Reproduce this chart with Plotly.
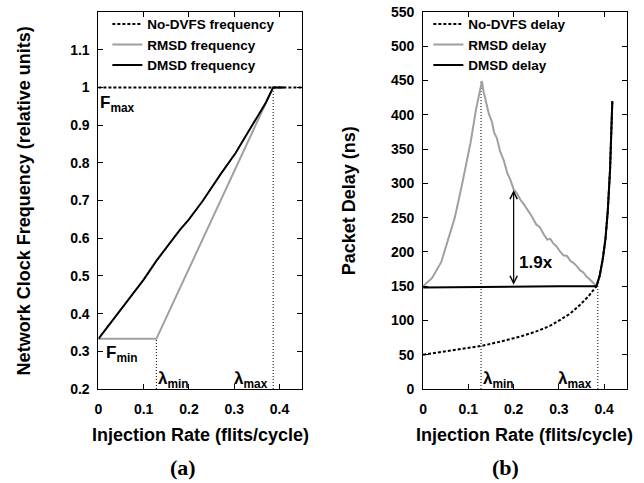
import plotly.graph_objects as go

# ---------------- data ----------------
lam_min = 0.128
lam_max = 0.386

# (a) frequency
nodvfs_freq_x = [0.0, 0.45]
nodvfs_freq_y = [1.0, 1.0]
rmsd_freq_x = [0.0, 0.128, 0.386, 0.41]
rmsd_freq_y = [0.333, 0.333, 1.0, 1.0]
dmsd_freq_x = [0.0, 0.05, 0.1, 0.128, 0.15, 0.18, 0.2, 0.231, 0.27, 0.303, 0.34, 0.37, 0.386, 0.41]
dmsd_freq_y = [0.333, 0.41, 0.49, 0.54, 0.575, 0.622, 0.65, 0.70, 0.77, 0.826, 0.90, 0.96, 1.0, 1.0]

# (b) delay
nodvfs_delay_x = [0.0, 0.03, 0.06, 0.09, 0.13, 0.17, 0.215, 0.25, 0.28, 0.303, 0.325, 0.347,
                  0.365, 0.383, 0.39, 0.397, 0.403, 0.408, 0.413, 0.418]
nodvfs_delay_y = [50, 53, 56, 59, 63, 69, 76.5, 84, 92, 101, 110, 123,
                  135, 150, 165, 190, 220, 260, 320, 420]
rmsd_delay_x = [0.0, 0.02, 0.04, 0.053, 0.07, 0.085, 0.095, 0.105, 0.117, 0.125, 0.13, 0.133,
                0.137, 0.145, 0.152, 0.157, 0.163, 0.17, 0.178, 0.186, 0.193, 0.2, 0.207,
                0.215, 0.222, 0.23, 0.24, 0.25, 0.258, 0.266, 0.274, 0.281, 0.288, 0.295,
                0.302, 0.31, 0.318, 0.325, 0.332, 0.34, 0.347, 0.354, 0.361, 0.368, 0.375,
                0.383, 0.39, 0.397, 0.403, 0.408, 0.413, 0.418]
rmsd_delay_y = [150, 162, 185, 212, 250, 295, 325, 360, 408, 437, 449, 436,
                425, 402, 390, 374, 366, 347, 334, 315, 305, 291, 286,
                276, 270, 262, 252, 240, 236, 226, 218, 219, 212, 208,
                201, 195, 194, 187, 184, 179, 173, 170, 164, 160, 156,
                150, 165, 190, 220, 260, 320, 420]
dmsd_delay_x = [0.0, 0.1, 0.2, 0.3, 0.383, 0.39, 0.397, 0.403, 0.408, 0.413, 0.418]
dmsd_delay_y = [148, 149, 150, 150, 150, 165, 190, 220, 260, 320, 420]

arrow_x = 0.2
arrow_low = 150
arrow_high = 290

freq_ticks = [0.2, 0.3, 0.4, 0.5, 0.6, 0.7, 0.8, 0.9, 1.0, 1.1]
freq_tick_text = ["0.2", "0.3", "0.4", "0.5", "0.6", "0.7", "0.8", "0.9", "1", "1.1"]
delay_ticks = list(range(0, 551, 50))
x_ticks = [0, 0.1, 0.2, 0.3, 0.4]
x_tick_text = ["0", "0.1", "0.2", "0.3", "0.4"]

# --------------- figure ---------------
GRAY = "#a0a0a0"
FONT = "Liberation Sans, Arial, sans-serif"
fig = go.Figure()

# (a)
fig.add_trace(go.Scatter(x=[lam_min, lam_min], y=[0.2, rmsd_freq_y[1]], mode="lines",
                         line=dict(color="black", width=1, dash="1px,2px"),
                         showlegend=False, xaxis="x", yaxis="y"))
fig.add_trace(go.Scatter(x=[lam_max, lam_max], y=[0.2, 1.0], mode="lines",
                         line=dict(color="black", width=1, dash="1px,2px"),
                         showlegend=False, xaxis="x", yaxis="y"))
fig.add_trace(go.Scatter(x=rmsd_freq_x, y=rmsd_freq_y, mode="lines", name="RMSD frequency",
                         line=dict(color=GRAY, width=2), xaxis="x", yaxis="y", legend="legend",
                         legendrank=2))
fig.add_trace(go.Scatter(x=dmsd_freq_x, y=dmsd_freq_y, mode="lines", name="DMSD frequency",
                         line=dict(color="black", width=2), xaxis="x", yaxis="y", legend="legend",
                         legendrank=3))
fig.add_trace(go.Scatter(x=nodvfs_freq_x, y=nodvfs_freq_y, mode="lines", name="No-DVFS frequency",
                         line=dict(color="black", width=2, dash="3px,2px"), xaxis="x", yaxis="y",
                         legend="legend", legendrank=1))

# (b)
fig.add_trace(go.Scatter(x=[lam_min, lam_min], y=[0, max(rmsd_delay_y)], mode="lines",
                         line=dict(color="black", width=1, dash="1px,2px"),
                         showlegend=False, xaxis="x2", yaxis="y2"))
fig.add_trace(go.Scatter(x=[lam_max, lam_max], y=[0, 150], mode="lines",
                         line=dict(color="black", width=1, dash="1px,2px"),
                         showlegend=False, xaxis="x2", yaxis="y2"))
fig.add_trace(go.Scatter(x=rmsd_delay_x, y=rmsd_delay_y, mode="lines", name="RMSD delay",
                         line=dict(color=GRAY, width=2), xaxis="x2", yaxis="y2", legend="legend2",
                         legendrank=2))
fig.add_trace(go.Scatter(x=nodvfs_delay_x, y=nodvfs_delay_y, mode="lines", name="No-DVFS delay",
                         line=dict(color="black", width=2, dash="3px,2px"), xaxis="x2", yaxis="y2",
                         legend="legend2", legendrank=1))
fig.add_trace(go.Scatter(x=dmsd_delay_x, y=dmsd_delay_y, mode="lines", name="DMSD delay",
                         line=dict(color="black", width=2), xaxis="x2", yaxis="y2", legend="legend2",
                         legendrank=3))

tickfont = dict(family=FONT, size=14, color="black", weight="bold")
axis_common = dict(showline=True, linecolor="black", linewidth=1, mirror="allticks",
                   ticks="inside", ticklen=5, tickwidth=1, tickcolor="black",
                   showgrid=False, zeroline=False, tickfont=tickfont)

legend_font = dict(family=FONT, size=13.5, color="black", weight="bold")
fig.update_layout(
    width=644, height=483,
    margin=dict(l=0, r=0, t=12, b=94),
    paper_bgcolor="white", plot_bgcolor="white",
    xaxis=dict(domain=[95 / 644, 300 / 644], range=[0, 0.45], tickvals=x_ticks,
               ticktext=x_tick_text, anchor="y", ticklabelstandoff=7, **axis_common),
    yaxis=dict(domain=[0, 1], range=[0.2, 1.2], tickvals=freq_ticks, ticktext=freq_tick_text,
               anchor="x", ticklabelstandoff=5, **axis_common),
    xaxis2=dict(domain=[421.7 / 644, 626.7 / 644], range=[0, 0.45], tickvals=x_ticks,
                ticktext=x_tick_text, anchor="y2", ticklabelstandoff=7, **axis_common),
    yaxis2=dict(domain=[0, 1], range=[0, 550], tickvals=delay_ticks, anchor="x2",
                ticklabelstandoff=5, **axis_common),
    legend=dict(x=104 / 644, y=1.009, xanchor="left", yanchor="top", bgcolor="rgba(0,0,0,0)",
                font=legend_font, itemwidth=30, tracegroupgap=0),
    legend2=dict(x=427 / 644, y=1.009, xanchor="left", yanchor="top", bgcolor="rgba(0,0,0,0)",
                 font=legend_font, itemwidth=30, tracegroupgap=0),
    showlegend=True,
)

lab_font = dict(family=FONT, size=17, color="black", weight="bold")
title_font = dict(family=FONT, size=18, color="black", weight="bold")
serif_font = dict(family="Liberation Serif, Times New Roman, serif", size=22, color="black",
                  weight="bold")
ann = [
    dict(x=0.0, y=0.955, xref="x", yref="y", text="F<sub>max</sub>", showarrow=False,
         xanchor="left", yanchor="middle", font=lab_font),
    dict(x=0.012, y=0.293, xref="x", yref="y", text="F<sub>min</sub>", showarrow=False,
         xanchor="left", yanchor="middle", font=lab_font),
    dict(x=lam_min, y=0.225, xref="x", yref="y", text="λ<sub>min</sub>", showarrow=False,
         xanchor="left", yanchor="middle", font=lab_font),
    dict(x=lam_max - 0.09, y=0.225, xref="x", yref="y", text="λ<sub>max</sub>", showarrow=False,
         xanchor="left", yanchor="middle", font=lab_font),
    dict(x=lam_min, y=13, xref="x2", yref="y2", text="λ<sub>min</sub>", showarrow=False,
         xanchor="left", yanchor="middle", font=lab_font),
    dict(x=lam_max - 0.092, y=13, xref="x2", yref="y2", text="λ<sub>max</sub>", showarrow=False,
         xanchor="left", yanchor="middle", font=lab_font),
    dict(x=0.207, y=185, xref="x2", yref="y2", text="1.9x", showarrow=False,
         xanchor="left", yanchor="middle", font=lab_font),
    # arrow
    dict(x=arrow_x, y=arrow_high, ax=arrow_x, ay=arrow_low, xref="x2", yref="y2",
         axref="x2", ayref="y2", text="", showarrow=True, arrowhead=5, arrowside="end+start",
         arrowwidth=1.2, arrowsize=1.2, arrowcolor="black"),
    # axis titles
    dict(x=0.5, y=(389 - 435) / 377, xref="x domain", yref="paper",
         text="Injection Rate (flits/cycle)",
         showarrow=False, font=title_font, xanchor="center", yanchor="middle"),
    dict(x=0.5, y=(389 - 435) / 377, xref="x2 domain", yref="paper",
         text="Injection Rate (flits/cycle)",
         showarrow=False, font=title_font, xanchor="center", yanchor="middle"),
    dict(x=20 / 644, y=0.5, xref="paper", yref="paper",
         text="Network Clock Frequency (relative units)", textangle=-90,
         showarrow=False, font=title_font, xanchor="center", yanchor="middle"),
    dict(x=347 / 644, y=0.5, xref="paper", yref="paper", text="Packet Delay (ns)",
         textangle=-90, showarrow=False, font=title_font, xanchor="center", yanchor="middle"),
    dict(x=180 / 644, y=(389 - 467) / 377, xref="paper", yref="paper", text="(a)",
         showarrow=False, font=serif_font, xanchor="center", yanchor="middle"),
    dict(x=505 / 644, y=(389 - 467) / 377, xref="paper", yref="paper", text="(b)",
         showarrow=False, font=serif_font, xanchor="center", yanchor="middle"),
]
fig.update_layout(annotations=ann)

fig.write_html("out.html", config={"displayModeBar": False},
               post_script="document.body.style.margin='0';")
